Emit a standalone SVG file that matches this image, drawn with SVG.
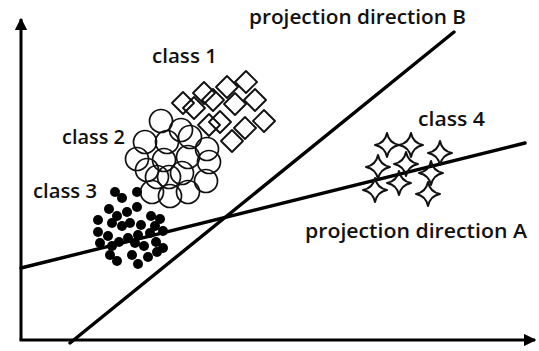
<svg xmlns="http://www.w3.org/2000/svg" width="539" height="351" viewBox="0 0 539 351">
<defs>
<style>
.lbl{font-family:"Open Sans","Noto Sans","DejaVu Sans",sans-serif;font-size:19px;font-weight:600;fill:#111}
.ax{stroke:#000;stroke-width:3;fill:none}
.pl{stroke:#000;stroke-width:3.4;fill:none;stroke-linecap:round}
.dm{fill:none;stroke:#111;stroke-width:1.9;stroke-linejoin:round}
.ci{fill:none;stroke:#111;stroke-width:1.7}
.dt{fill:#000}
.st{fill:none;stroke:#111;stroke-width:2;stroke-linejoin:round}
</style>
<path id="dia" d="M0,-11 L11,0 L0,11 L-11,0 Z"/>
<path id="star" d="M0,-12 Q2,-2 12,0 Q2,2 0,12 Q-2,2 -12,0 Q-2,-2 0,-12 Z"/>
<marker id="arr" viewBox="0 0 10 10" refX="9" refY="5" markerWidth="4.2" markerHeight="4.2" orient="auto" markerUnits="strokeWidth">
<path d="M0,0 L10,5 L0,10 Z" fill="#000"/>
</marker>
</defs>
<rect width="539" height="351" fill="#fff"/>

<g id="axes">
<path class="ax" d="M21,340 L21,19" marker-end="url(#arr)"/>
<path class="ax" d="M19.5,340 L535,340" marker-end="url(#arr)"/>
</g>

<g id="class1">
<use href="#dia" class="dm" x="246" y="82"/>
<use href="#dia" class="dm" x="227" y="87"/>
<use href="#dia" class="dm" x="204" y="93"/>
<use href="#dia" class="dm" x="183" y="103"/>
<use href="#dia" class="dm" x="194" y="108"/>
<use href="#dia" class="dm" x="213" y="100"/>
<use href="#dia" class="dm" x="235" y="104"/>
<use href="#dia" class="dm" x="255" y="100"/>
<use href="#dia" class="dm" x="209" y="125"/>
<use href="#dia" class="dm" x="220" y="122"/>
<use href="#dia" class="dm" x="245" y="128"/>
<use href="#dia" class="dm" x="264" y="121"/>
<use href="#dia" class="dm" x="232" y="141"/>
<text class="lbl" x="152" y="63" textLength="65" lengthAdjust="spacingAndGlyphs">class 1</text>
</g>

<g id="class2">
<circle class="ci" cx="161" cy="121" r="11.5"/>
<circle class="ci" cx="181" cy="130" r="11.5"/>
<circle class="ci" cx="190" cy="137" r="11.5"/>
<circle class="ci" cx="145" cy="142" r="11.5"/>
<circle class="ci" cx="167" cy="142" r="11.5"/>
<circle class="ci" cx="207" cy="149" r="11.5"/>
<circle class="ci" cx="137" cy="159" r="11.5"/>
<circle class="ci" cx="164" cy="160" r="11.5"/>
<circle class="ci" cx="188" cy="157" r="11.5"/>
<circle class="ci" cx="209" cy="162" r="11.5"/>
<circle class="ci" cx="147" cy="170" r="11.5"/>
<circle class="ci" cx="157" cy="177" r="11.5"/>
<circle class="ci" cx="169" cy="177" r="11.5"/>
<circle class="ci" cx="182" cy="173" r="11.5"/>
<circle class="ci" cx="206" cy="181" r="11.5"/>
<circle class="ci" cx="152" cy="192" r="11.5"/>
<circle class="ci" cx="170" cy="196" r="11.5"/>
<circle class="ci" cx="188" cy="192" r="11.5"/>
<text class="lbl" x="62" y="144" textLength="63" lengthAdjust="spacingAndGlyphs">class 2</text>
</g>

<g id="connectors">
<path class="pl" d="M21,268 L525,143"/>
<path class="pl" d="M70,343 L454,32"/>
</g>

<g id="class3">
<circle class="dt" cx="115" cy="192" r="5"/>
<circle class="dt" cx="122" cy="198" r="5"/>
<circle class="dt" cx="137" cy="192" r="5"/>
<circle class="dt" cx="109" cy="209" r="5"/>
<circle class="dt" cx="117" cy="216" r="5"/>
<circle class="dt" cx="127" cy="212" r="5"/>
<circle class="dt" cx="137" cy="207" r="5"/>
<circle class="dt" cx="98" cy="220" r="5"/>
<circle class="dt" cx="112" cy="223" r="5"/>
<circle class="dt" cx="122" cy="226" r="5"/>
<circle class="dt" cx="130" cy="223" r="5"/>
<circle class="dt" cx="151" cy="216" r="5"/>
<circle class="dt" cx="160" cy="219" r="5"/>
<circle class="dt" cx="141" cy="225" r="5"/>
<circle class="dt" cx="155" cy="226" r="5"/>
<circle class="dt" cx="98" cy="232" r="5"/>
<circle class="dt" cx="108" cy="236" r="5"/>
<circle class="dt" cx="128" cy="238" r="5"/>
<circle class="dt" cx="138" cy="235" r="5"/>
<circle class="dt" cx="150" cy="233" r="5"/>
<circle class="dt" cx="163" cy="231" r="5"/>
<circle class="dt" cx="100" cy="243" r="5"/>
<circle class="dt" cx="112" cy="246" r="5"/>
<circle class="dt" cx="119" cy="242" r="5"/>
<circle class="dt" cx="135" cy="243" r="5"/>
<circle class="dt" cx="144" cy="246" r="5"/>
<circle class="dt" cx="156" cy="242" r="5"/>
<circle class="dt" cx="110" cy="255" r="5"/>
<circle class="dt" cx="117" cy="261" r="5"/>
<circle class="dt" cx="132" cy="255" r="5"/>
<circle class="dt" cx="138" cy="264" r="5"/>
<circle class="dt" cx="148" cy="257" r="5"/>
<circle class="dt" cx="157" cy="252" r="5"/>
<circle class="dt" cx="163" cy="248" r="5"/>
<text class="lbl" x="33" y="198" textLength="64" lengthAdjust="spacingAndGlyphs">class 3</text>
</g>

<g id="class4">
<use href="#star" class="st" x="387" y="145"/>
<use href="#star" class="st" x="411" y="145"/>
<use href="#star" class="st" x="440" y="153"/>
<use href="#star" class="st" x="378" y="167"/>
<use href="#star" class="st" x="406" y="164"/>
<use href="#star" class="st" x="431" y="173"/>
<use href="#star" class="st" x="399" y="183"/>
<use href="#star" class="st" x="375" y="190"/>
<use href="#star" class="st" x="428" y="194"/>
<text class="lbl" x="418" y="126" textLength="67" lengthAdjust="spacingAndGlyphs">class 4</text>
</g>

<g id="labels">
<text class="lbl" x="249" y="24" textLength="217" lengthAdjust="spacingAndGlyphs">projection direction B</text>
<text class="lbl" x="305" y="238" textLength="222" lengthAdjust="spacingAndGlyphs">projection direction A</text>
</g>
</svg>
